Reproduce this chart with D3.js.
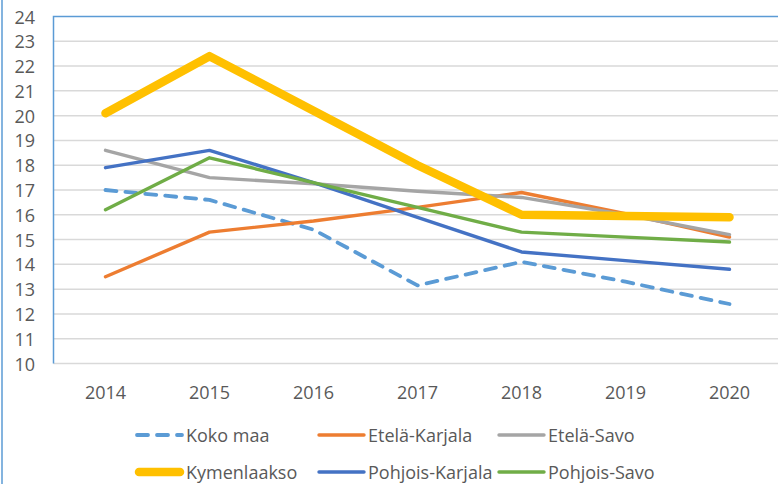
<!DOCTYPE html>
<html lang="fi">
<head>
<meta charset="utf-8">
<title>Line chart</title>
<script src="https://d3js.org/d3.v7.min.js"></script>
<style>
body { margin: 0; background: #fff; }
text { font-family: "Open Sans", sans-serif; fill: #595959; }
.grid line { stroke: #d9d9d9; stroke-width: 1.5; }
.tick-label { font-size: 18px; }
.legend text { font-size: 18px; }
</style>
</head>
<body>
<div id="chart"></div>
<script>
// data
var years = ["2014", "2015", "2016", "2017", "2018", "2019", "2020"];
var yTicks = [10, 11, 12, 13, 14, 15, 16, 17, 18, 19, 20, 21, 22, 23, 24];

var seriesNames = ["Koko maa", "Etelä-Karjala", "Etelä-Savo", "Kymenlaakso", "Pohjois-Karjala", "Pohjois-Savo"];
var kokoMaa        = [17.0, 16.6, 15.4, 13.15, 14.1, 13.3, 12.4];
var etelaKarjala   = [13.5, 15.3, 15.75, 16.3, 16.9, 16.05, 15.1];
var etelaSavo      = [18.6, 17.5, 17.25, 16.95, 16.7, 16.0, 15.2];
var kymenlaakso    = [20.1, 22.4, 20.2, 18.0, 16.0, 15.95, 15.9];
var pohjoisKarjala = [17.9, 18.6, 17.3, 15.9, 14.5, 14.15, 13.8];
var pohjoisSavo    = [16.2, 18.3, 17.3, 16.3, 15.3, 15.1, 14.9];

var values = [kokoMaa, etelaKarjala, etelaSavo, kymenlaakso, pohjoisKarjala, pohjoisSavo];
var colors = ["#5b9bd5", "#ed7d31", "#a5a5a5", "#ffc000", "#4472c4", "#70ad47"];
var widths = [3.8, 3.4, 3.4, 8.5, 3.4, 3.4];
var dashes = ["11,9", null, null, null, null, null];

var w = 778, h = 484;
var svg = d3.select("#chart").append("svg")
    .attr("width", w).attr("height", h);

var plotLeft = 53.5, plotTop = 16.5, plotBottom = 363.5;
var x = d3.scaleBand().domain(years).range([plotLeft, plotLeft + 7 * 104]);
var y = d3.scaleLinear().domain([10, 24]).range([plotBottom, plotTop]);

// outer frame line at the left
svg.append("line")
    .attr("x1", 2).attr("x2", 2).attr("y1", 0).attr("y2", h)
    .attr("stroke", "#5b9bd5").attr("stroke-width", 1.5);

// gridlines
svg.append("g").attr("class", "grid")
    .selectAll("line")
    .data(yTicks.slice(0, -1))
    .enter().append("line")
    .attr("x1", plotLeft).attr("x2", w)
    .attr("y1", function(d) { return y(d); })
    .attr("y2", function(d) { return y(d); });

// plot area border (top + left)
svg.append("path")
    .attr("d", "M" + w + "," + y(24) + "H" + plotLeft + "V" + y(10))
    .attr("fill", "none").attr("stroke", "#5b9bd5").attr("stroke-width", 1.5);

// y labels
svg.append("g")
    .selectAll("text")
    .data(yTicks)
    .enter().append("text")
    .attr("class", "tick-label")
    .attr("x", 35)
    .attr("y", function(d) { return y(d); })
    .attr("text-anchor", "end")
    .attr("dominant-baseline", "central")
    .text(function(d) { return d; });

// x labels
svg.append("g")
    .selectAll("text")
    .data(years)
    .enter().append("text")
    .attr("class", "tick-label")
    .attr("x", function(d) { return x(d) + x.bandwidth() / 2; })
    .attr("y", 392)
    .attr("text-anchor", "middle")
    .attr("dominant-baseline", "central")
    .text(function(d) { return d; });

// lines
var line = d3.line()
    .x(function(d, i) { return x(years[i]) + x.bandwidth() / 2; })
    .y(function(d) { return y(d); });

svg.append("g")
    .selectAll("path")
    .data(values)
    .enter().append("path")
    .attr("d", line)
    .attr("fill", "none")
    .attr("stroke", function(d, i) { return colors[i]; })
    .attr("stroke-width", function(d, i) { return widths[i]; })
    .attr("stroke-dasharray", function(d, i) { return dashes[i]; })
    .attr("stroke-linecap", "round")
    .attr("stroke-linejoin", "round");

// legend
var colX = [135, 317, 497];
var rowY = [435, 472];
var items = svg.append("g").attr("class", "legend")
    .selectAll("g")
    .data(seriesNames)
    .enter().append("g")
    .attr("transform", function(d, i) {
        return "translate(" + colX[i % 3] + "," + rowY[Math.floor(i / 3)] + ")";
    });

items.append("line")
    .attr("x1", function(d, i) { return i == 3 ? 4 : 2; })
    .attr("x2", function(d, i) { return i == 3 ? 45 : 47; })
    .attr("stroke", function(d, i) { return colors[i]; })
    .attr("stroke-width", function(d, i) { return widths[i]; })
    .attr("stroke-dasharray", function(d, i) { return dashes[i]; })
    .attr("stroke-linecap", "round");

items.append("text")
    .attr("x", 51)
    .attr("dominant-baseline", "central")
    .text(function(d) { return d; });
</script>
</body>
</html>
